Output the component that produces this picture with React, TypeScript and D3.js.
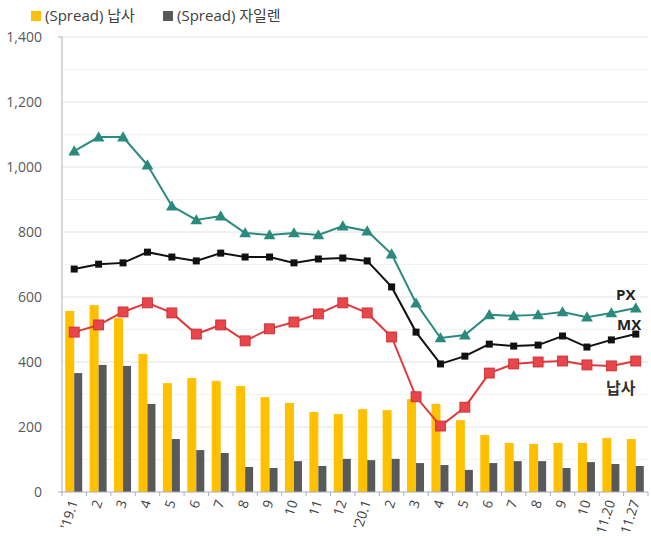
import React from 'react';
import * as d3 from 'd3';

const categories = ["'19.1", '2', '3', '4', '5', '6', '7', '8', '9', '10', '11', '12',
  "'20.1", '2', '3', '4', '5', '6', '7', '8', '9', '10', '11.20', '11.27'];

const spreadNaphtha = [557, 575, 535, 425, 335, 351, 342, 326, 292, 274, 246, 240,
  255, 252, 286, 271, 221, 175, 151, 148, 151, 151, 166, 163];
const spreadXylene = [366, 391, 388, 271, 163, 129, 120, 77, 74, 95, 80, 102,
  98, 102, 89, 83, 68, 89, 95, 95, 74, 92, 86, 80];
const px = [1049, 1092, 1092, 1006, 880, 837, 849, 797, 791, 797, 791, 818,
  803, 732, 581, 474, 483, 545, 542, 545, 554, 538, 551, 566];
const mx = [686, 701, 705, 738, 723, 711, 735, 723, 723, 705, 717, 720,
  711, 631, 492, 394, 418, 455, 449, 452, 480, 446, 468, 486];
const naphtha = [492, 514, 554, 582, 551, 486, 514, 465, 502, 523, 548, 582,
  551, 477, 293, 203, 261, 366, 394, 400, 403, 391, 388, 403];

const yTicks = [0, 200, 400, 600, 800, 1000, 1200, 1400];
const yMinor = [100, 300, 500, 700, 900, 1100, 1300];

const W = 651, H = 541;
const left = 62, right = 648, top = 37, bottom = 492;
const FONT = "'Open Sans', 'Noto Sans CJK KR', sans-serif";

export default function App() {
  const x = d3.scaleBand<number>().domain(d3.range(categories.length)).range([left, right]);
  const y = d3.scaleLinear().domain([0, 1400]).range([bottom, top]);
  const bw = 9;
  const cx = (i: number) => (x(i) as number) + x.bandwidth() / 2;

  const line = d3.line<number>().x((_, i) => cx(i)).y(d => y(d));

  const tri = d3.symbol().type(d3.symbolTriangle).size(60)();

  return (
    <svg width={W} height={H} style={{ position: 'absolute', left: 0, top: 0 }} fontFamily={FONT}>
      <rect width={W} height={H} fill="#fff" />
      {/* legend */}
      <rect x={31} y={11} width={10} height={10} fill="#FFC000" />
      <text x={45} y={21} fontSize={15} fill="#404040">(Spread) 납사</text>
      <rect x={163} y={11} width={10} height={10} fill="#595959" />
      <text x={177} y={21} fontSize={15} fill="#404040">(Spread) 자일렌</text>

      {/* grid */}
      {yMinor.map(t => (
        <line key={'m' + t} x1={left} x2={right} y1={y(t)} y2={y(t)} stroke="#f2f2f2" />
      ))}
      {yTicks.filter(t => t > 0).map(t => (
        <line key={'g' + t} x1={left} x2={right} y1={y(t)} y2={y(t)} stroke="#e3e3e3" />
      ))}

      {/* y axis */}
      <line x1={left} x2={left} y1={top} y2={bottom} stroke="#b0b0b0" />
      <line x1={left - 4} x2={left} y1={top} y2={top} stroke="#b0b0b0" />
      {yTicks.map(t => (
        <text key={'y' + t} x={42} y={y(t) + 5} fontSize={14} textAnchor="end" fill="#595959">
          {d3.format(',')(t)}
        </text>
      ))}

      {/* bars */}
      {spreadNaphtha.map((v, i) => (
        <rect key={'n' + i} x={cx(i) - bw} y={y(v)} width={bw} height={bottom - y(v)} fill="#FFC000" />
      ))}
      {spreadXylene.map((v, i) => (
        <rect key={'x' + i} x={cx(i)} y={y(v)} width={bw - 1} height={bottom - y(v)} fill="#595959" />
      ))}

      {/* x axis */}
      <line x1={left - 4} x2={right} y1={bottom} y2={bottom} stroke="#a6b0c0" />
      {d3.range(categories.length + 1).map(i => {
        const xx = left + i * x.bandwidth();
        return <line key={'t' + i} x1={xx} x2={xx} y1={bottom} y2={bottom + 4} stroke="#a6b0c0" />;
      })}
      {categories.map((c, i) => (
        <text key={'c' + i} transform={`translate(${cx(i) + 4},${bottom + 10}) rotate(-72)`}
          fontSize={13.5} textAnchor="end" fill="#404040">{c}</text>
      ))}

      {/* lines */}
      <path d={line(naphtha) || ''} fill="none" stroke="#E0393E" strokeWidth={2} />
      {naphtha.map((v, i) => (
        <rect key={'r' + i} x={cx(i) - 5} y={y(v) - 5} width={10} height={10} fill="#E8464B" stroke="#C8282D" strokeWidth={0.8} />
      ))}
      <path d={line(mx) || ''} fill="none" stroke="#111" strokeWidth={2} />
      {mx.map((v, i) => (
        <rect key={'b' + i} x={cx(i) - 3.5} y={y(v) - 3.5} width={7} height={7} fill="#111" />
      ))}
      <path d={line(px) || ''} fill="none" stroke="#2A8A7E" strokeWidth={2} />
      {px.map((v, i) => (
        <path key={'p' + i} d={tri || ''} transform={`translate(${cx(i)},${y(v) + 1})`} fill="#2A8A7E" />
      ))}

      {/* series labels */}
      <text x={616} y={300} fontSize={15} fontWeight="bold" fill="#222">PX</text>
      <text x={617} y={330} fontSize={15} fontWeight="bold" fill="#222">MX</text>
      <text x={606} y={394} fontSize={16} fontWeight="bold" fill="#333">납사</text>
    </svg>
  );
}
